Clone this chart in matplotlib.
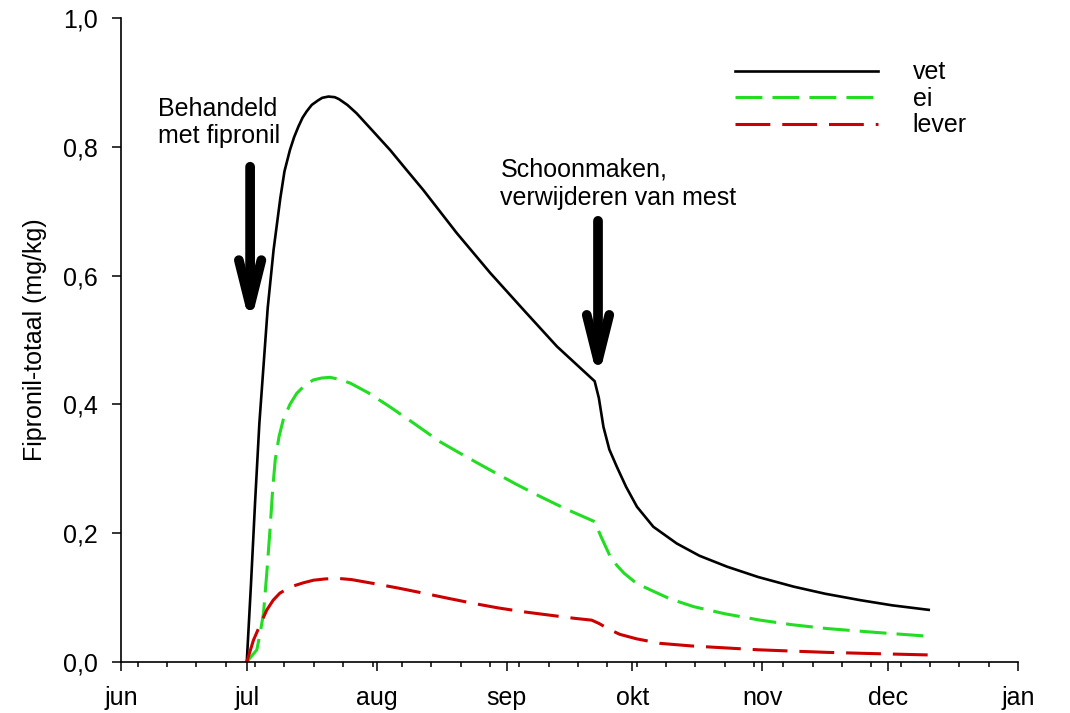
import numpy as np
import matplotlib
matplotlib.use("Agg")
import matplotlib.pyplot as plt

plt.rcParams["font.family"] = ["Liberation Sans", "DejaVu Sans"]
plt.rcParams["font.size"] = 18

# days since 1 June
month_pos = [0, 30, 61, 92, 122, 153, 183, 214]
month_labels = ["jun", "jul", "aug", "sep", "okt", "nov", "dec", "jan"]

vet_x = [30, 31, 32, 33, 34, 35, 36.4, 38, 39, 40.3, 41.3, 42.3, 43.3, 44.3, 45.5, 47,
         48, 49.5, 51, 52, 54, 56.2, 60, 64.2, 68, 72.1, 80.1, 88.1, 96, 104, 113, 114,
         115.1, 116.5, 118.3, 120.5, 123.1, 127, 132.6, 138, 144.6, 152, 160.5, 168,
         176.4, 184, 192.7]
vet_y = [0, 0.12, 0.25, 0.37, 0.46, 0.55, 0.64, 0.72, 0.762, 0.795, 0.815, 0.831, 0.845,
         0.855, 0.865, 0.872, 0.876, 0.878, 0.877, 0.874, 0.865, 0.852, 0.825, 0.795,
         0.765, 0.733, 0.666, 0.604, 0.547, 0.49, 0.436, 0.41, 0.365, 0.33, 0.303,
         0.272, 0.241, 0.21, 0.184, 0.165, 0.148, 0.132, 0.117, 0.106, 0.096, 0.088,
         0.081]

ei_x = [30, 31, 32.4, 33.2, 34, 34.8, 35.6, 36.2, 36.8, 37.7, 38.7, 40.3, 41.9, 43.9,
        45.9, 47.9, 49.9, 52, 54.7, 59, 64.2, 70, 76.1, 82, 88.1, 94, 100, 106, 113,
        114.5, 116.7, 118.3, 120, 123, 126.3, 131, 136.6, 144, 152.5, 160, 168.4, 180,
        192.7]
ei_y = [0, 0.008, 0.019, 0.045, 0.076, 0.14, 0.21, 0.27, 0.314, 0.35, 0.376, 0.40,
        0.417, 0.43, 0.438, 0.441, 0.442, 0.439, 0.433, 0.418, 0.396, 0.37, 0.342, 0.32,
        0.298, 0.277, 0.257, 0.238, 0.218, 0.195, 0.164, 0.15, 0.138, 0.122, 0.112,
        0.098, 0.086, 0.075, 0.065, 0.058, 0.052, 0.046, 0.040]

lever_x = [30, 31.6, 33.2, 34.8, 36.3, 37.9, 39.5, 41.1, 43.5, 45.9, 48.7, 51.5, 55,
           60.2, 66, 72.1, 78, 84.1, 90, 96, 102, 108, 112.3, 114, 116.7, 119, 123,
           128.6, 136, 144, 152, 160, 168.4, 180, 192.7]
lever_y = [0, 0.034, 0.058, 0.081, 0.096, 0.107, 0.113, 0.118, 0.123, 0.127, 0.129,
           0.130, 0.128, 0.122, 0.115, 0.107, 0.099, 0.091, 0.084, 0.078, 0.073, 0.068,
           0.065, 0.060, 0.050, 0.043, 0.036, 0.029, 0.025, 0.022, 0.019, 0.017, 0.015,
           0.013, 0.011]

events_x = [30.8, 113.8]
events_top = [0.769, 0.685]
events_tip = [0.523, 0.438]
events_text = ["Behandeld\nmet fipronil", "Schoonmaken,\nverwijderen van mest"]
text_x = [8.8, 90.5]
text_y = [0.878, 0.783]

fig, ax = plt.subplots(figsize=(10.7, 7.13), dpi=100)
fig.subplots_adjust(left=0.1131, right=0.9514, bottom=0.0715, top=0.9748)

ax.plot(vet_x, vet_y, color="black", lw=1.9, label="vet")
ax.plot(ei_x, ei_y, color="#22dd22", lw=2.2, dashes=(8.8, 3.3), label="ei")
ax.plot(lever_x, lever_y, color="#cc0000", lw=2.2, dashes=(11.4, 3.9), label="lever")

for x, y0, y1, txt, tx, ty in zip(events_x, events_top, events_tip, events_text, text_x, text_y):
    ax.annotate("", xy=(x, y1), xytext=(x, y0),
                arrowprops=dict(arrowstyle="->,head_length=1.8,head_width=0.45",
                                lw=7, color="black", shrinkA=0, shrinkB=0,
                                capstyle="round", joinstyle="round"))
    ax.text(tx, ty, txt, ha="left", va="top", fontsize=18)

ax.set_xlim(0, 214)
ax.set_ylim(0, 1.0)
ax.set_xticks(month_pos)
ax.set_xticklabels(month_labels)
ax.set_xticks(np.arange(4, 214, 7), minor=True)
ax.set_yticks(np.arange(0, 1.01, 0.2))
ax.set_yticklabels([f"{v:.1f}".replace(".", ",") for v in np.arange(0, 1.01, 0.2)])
ax.set_ylabel("Fipronil-totaal (mg/kg)", fontsize=18, labelpad=12)

for s in ["top", "right"]:
    ax.spines[s].set_visible(False)
for s in ["left", "bottom"]:
    ax.spines[s].set_linewidth(1.2)
ax.tick_params(axis="x", which="major", length=6.5, width=1.1, pad=11, labelsize=18)
ax.tick_params(axis="x", which="minor", length=3.8, width=1.1)
ax.tick_params(axis="y", which="major", length=6.5, width=1.1, pad=10, labelsize=18)

ax.legend(loc="upper left", bbox_to_anchor=(0.6845, 0.934), frameon=False,
          handlelength=5.7, handletextpad=1.4, labelspacing=0.1,
          borderpad=0, borderaxespad=0, fontsize=18)

fig.savefig("out.png", dpi=100)
